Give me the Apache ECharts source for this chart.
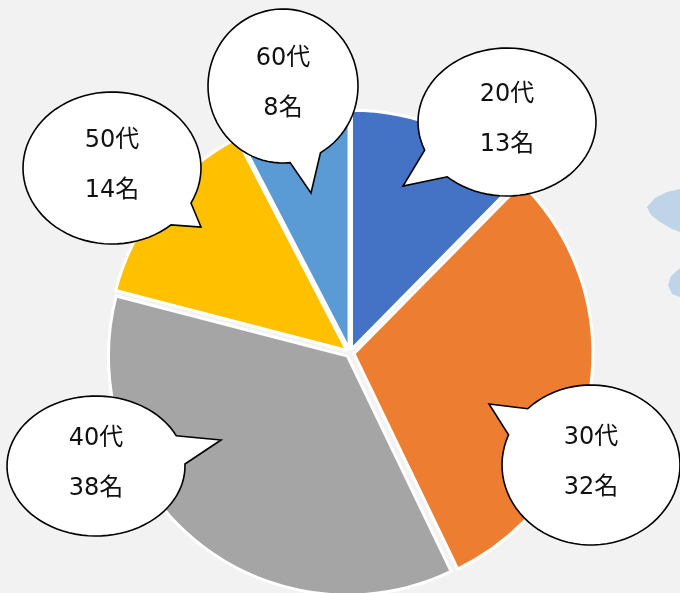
<!DOCTYPE html>
<html>
<head>
<meta charset="utf-8">
<script src="https://cdn.jsdelivr.net/npm/echarts@6/dist/echarts.min.js"></script>
<style>
html,body{margin:0;padding:0;background:#f2f2f2;}
#main{width:680px;height:593px;}
</style>
</head>
<body>
<div id="main"></div>
<script>
// 年代別の人数
var ageGroups = ['20代', '30代', '40代', '50代', '60代'];
var counts = [13, 32, 38, 14, 8];
var unit = '名';
var sliceColors = ['#4472C4', '#ED7D31', '#A5A5A5', '#FFC000', '#5B9BD5'];

// 吹き出しの配置 (中心, 半径, しっぽの付け根2点, 先端)
var bubbles = [
    {cx: 507, cy: 122, rx: 89, ry: 74, b1: [425, 150], b2: [447, 177], tip: [403, 186]},
    {cx: 591, cy: 465, rx: 89, ry: 80, b1: [528, 409], b2: [509, 435], tip: [489, 404]},
    {cx: 96, cy: 466, rx: 89, ry: 70, b1: [173, 437], b2: [184, 464], tip: [221, 440]},
    {cx: 112, cy: 168, rx: 89, ry: 76, b1: [191, 203], b2: [170, 224], tip: [201, 227]},
    {cx: 283, cy: 86, rx: 75, ry: 77, b1: [290, 162], b2: [324, 159], tip: [311, 193]}
];

function bubblePoints(b){
    var TWO = Math.PI * 2;
    function ang(p){ return Math.atan2((p[1] - b.cy) / b.ry, (p[0] - b.cx) / b.rx); }
    function mod(a){ return ((a % TWO) + TWO) % TWO; }
    var a1 = ang(b.b1), a2 = ang(b.b2), d = ang(b.tip);
    if (mod(d - a1) > mod(a2 - a1)) { var t = a1; a1 = a2; a2 = t; }
    var span = TWO - mod(a2 - a1);
    var pts = [];
    var n = 80;
    for (var i = 0; i <= n; i++) {
        var a = a2 + span * i / n;
        pts.push([b.cx + b.rx * Math.cos(a), b.cy + b.ry * Math.sin(a)]);
    }
    pts.push(b.tip);
    return pts;
}

var pieData = ageGroups.map(function(name, i){
    return {name: name, value: counts[i], selected: true, itemStyle: {color: sliceColors[i]}};
});

var textFont = '24px "DejaVu Sans", "Noto Sans CJK JP"';
var graphics = [
    {type: 'polygon', z: 1, silent: true, shape: {points: [[647,207],[655,198],[667,192],[680,189],[680,232],[672,229],[660,222],[651,215]]}, style: {fill: '#bfd4e8'}},
    {type: 'polygon', z: 1, silent: true, shape: {points: [[668,285],[671,276],[680,268],[680,297],[672,294]]}, style: {fill: '#bfd4e8'}}
];
bubbles.forEach(function(b, i){
    graphics.push({
        type: 'polygon', z: 100, silent: true,
        shape: {points: bubblePoints(b)},
        style: {fill: '#ffffff', stroke: '#000000', lineWidth: 1.6, lineJoin: 'miter'}
    });
    graphics.push({
        type: 'text', z: 101, silent: true, x: b.cx, y: b.cy - 27,
        style: {text: ageGroups[i], fill: '#111111', font: textFont, align: 'center', verticalAlign: 'middle'}
    });
    graphics.push({
        type: 'text', z: 101, silent: true, x: b.cx, y: b.cy + 23,
        style: {text: counts[i] + unit, fill: '#111111', font: textFont, align: 'center', verticalAlign: 'middle'}
    });
});

var myChart = echarts.init(document.getElementById('main'));
myChart.setOption({
    backgroundColor: '#f2f2f2',
    animation: false,
    series: [{
        type: 'pie',
        center: [350, 353],
        radius: 239,
        startAngle: 90,
        clockwise: true,
        selectedMode: 'multiple',
        selectedOffset: 4,
        label: {show: false},
        labelLine: {show: false},
        itemStyle: {borderColor: '#ffffff', borderWidth: 3},
        emphasis: {disabled: true},
        data: pieData
    }],
    graphic: graphics
});
</script>
</body>
</html>
